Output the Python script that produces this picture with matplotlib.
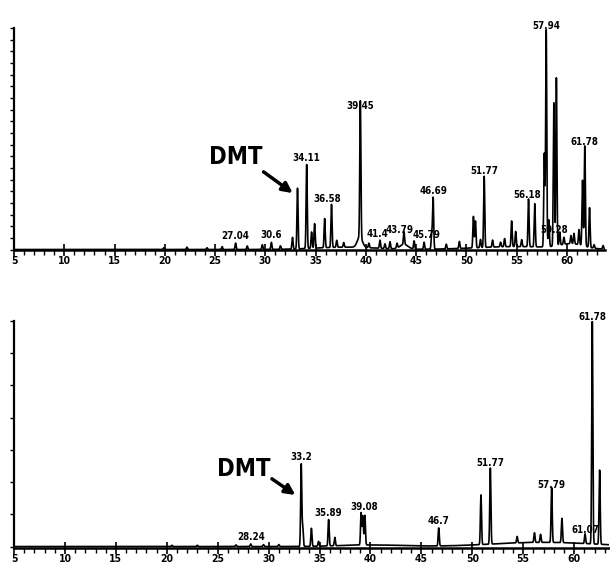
import numpy as np
import matplotlib
matplotlib.use("Agg")
import matplotlib.pyplot as plt
from matplotlib import font_manager
from matplotlib.ticker import MultipleLocator

# ---- data (retention time in min, height in tick units)
top_rt = [19.9, 22.2, 24.2, 25.7, 27.04, 28.2, 29.7, 30.6, 31.5, 32.7, 33.2,
          34.11, 34.6, 34.9, 35.9, 36.58, 37.1, 37.8, 39.45, 40.3, 41.4, 41.9,
          42.4, 43.1, 43.79, 44.8, 45.79, 46.55, 46.69, 48.0, 49.3, 50.7, 50.9,
          51.4, 51.77, 52.6, 53.4, 53.8, 54.5, 54.9, 55.5, 56.18, 56.8, 57.75,
          57.94, 58.2, 58.7, 58.95, 59.28, 59.7, 60.4, 60.7, 61.2, 61.55, 61.78,
          62.25, 62.7, 63.6]
top_h = [0.15, 0.2, 0.15, 0.25, 0.55, 0.3, 0.4, 0.6, 0.3, 1.0, 5.2,
         7.2, 1.4, 2.1, 2.5, 3.7, 0.6, 0.4, 11.7, 0.4, 0.7, 0.4,
         0.6, 0.4, 1.1, 0.7, 0.6, 1.4, 4.4, 0.4, 0.6, 2.7, 2.3,
         0.7, 6.1, 0.6, 0.4, 0.7, 2.2, 1.3, 0.6, 4.1, 3.7, 8.0,
         18.6, 2.3, 12.3, 14.4, 1.1, 0.6, 0.7, 0.9, 1.3, 5.6, 8.6,
         3.4, 0.3, 0.3]
top_hump_rt = [38.0, 39.4, 43.8, 55.0, 60.5]
top_hump_h = [0.2, 0.9, 0.4, 0.25, 0.4]
top_hump_w = [3.0, 0.25, 0.4, 4.0, 1.2]
top_labels = ["27.04", "30.6", "34.11", "36.58", "39.45", "41.4", "43.79",
              "45.79", "46.69", "51.77", "56.18", "57.94", "59.28", "61.78"]

bot_rt = [20.5, 23.0, 26.8, 28.24, 29.5, 31.0, 33.2, 33.35, 34.2, 34.9, 35.89,
          36.5, 39.08, 39.25, 39.45, 46.7, 50.85, 51.77, 54.4, 56.1, 56.7,
          57.79, 58.8, 61.07, 61.78, 62.5]
bot_h = [0.04, 0.04, 0.05, 0.08, 0.06, 0.06, 2.55, 0.6, 0.56, 0.15, 0.82,
         0.26, 1.0, 0.9, 0.92, 0.56, 1.54, 2.36, 0.2, 0.3, 0.25,
         1.7, 0.75, 0.3, 6.9, 2.3]
bot_hump_rt = [57.0, 40.0]
bot_hump_h = [0.13, 0.05]
bot_hump_w = [5.0, 3.0]
bot_labels = ["28.24", "33.2", "35.89", "39.08", "46.7", "51.77", "57.79",
              "61.07", "61.78"]

label_shift = {"59.28": -4, "36.58": -3, "39.08": 2, "56.18": -1, "41.4": -2,
               "43.79": -3, "45.79": 1.5}

# narrow bold font if one is installed, else Liberation Sans (narrower than DejaVu)
FONT, STRETCH = "Liberation Sans", "normal"
for f in font_manager.fontManager.ttflist:
    if "Narrow" in f.name or "Condensed" in f.name:
        FONT, STRETCH = f.name, "normal"
        break
    if f.stretch in ("condensed", "semi-condensed", 500 - 125) and f.name == "DejaVu Sans":
        FONT, STRETCH = "DejaVu Sans", "condensed"
        break


def trace(t, rts, hs, hump_rt, hump_h, hump_w, sigma=0.055):
    y = np.zeros_like(t)
    for r, h in zip(rts, hs):
        y += h * np.exp(-0.5 * ((t - r) / sigma) ** 2)
    for r, h, w in zip(hump_rt, hump_h, hump_w):
        y += h * np.exp(-0.5 * ((t - r) / w) ** 2)
    return y


def style(ax, xmax, ymax):
    ax.set_xlim(5, xmax)
    ax.set_ylim(-0.05, ymax)
    for s in ["top", "right"]:
        ax.spines[s].set_visible(False)
    ax.spines["left"].set_linewidth(1.6)
    ax.spines["bottom"].set_linewidth(1.8)
    ax.xaxis.set_major_locator(MultipleLocator(5))
    ax.xaxis.set_minor_locator(MultipleLocator(1))
    ax.yaxis.set_major_locator(MultipleLocator(1))
    ax.tick_params(axis="x", which="major", direction="inout", length=8, width=1.2, pad=0)
    ax.tick_params(axis="x", which="minor", direction="out", length=3.5, width=1.0)
    ax.tick_params(axis="y", which="major", direction="out", length=3, width=1.0, labelleft=False)
    for lab in ax.get_xticklabels():
        lab.set_fontfamily(FONT)
        lab.set_fontstretch(STRETCH)
        lab.set_fontweight("bold")
        lab.set_fontsize(7.5)


def label_peaks(ax, rts, hs, labels, size):
    for lab in labels:
        i = rts.index(float(lab))
        ax.annotate(lab, (rts[i], hs[i]), xytext=(label_shift.get(lab, 0), 1.5),
                    textcoords="offset points", ha="center", va="bottom",
                    fontsize=size, fontweight="bold", family=FONT, fontstretch=STRETCH)


fig = plt.figure(figsize=(6.1, 5.71), dpi=100)

ax1 = fig.add_axes([0.023, 0.562, 0.969, 0.389])
t1 = np.linspace(5, 64, 14000)
ax1.plot(t1, trace(t1, top_rt, top_h, top_hump_rt, top_hump_h, top_hump_w),
         color="black", lw=1.2)
style(ax1, 63.8, 19)
label_peaks(ax1, top_rt, top_h, top_labels, 7)
ax1.text(27.1, 7.9, "DMT", ha="center", va="center", fontsize=17,
         fontweight="bold", family=FONT, fontstretch=STRETCH)
ax1.annotate("", xy=(32.95, 4.7), xytext=(29.6, 6.8),
             arrowprops=dict(arrowstyle="-|>,head_length=0.6,head_width=0.3",
                             lw=2.5, color="black"))

ax2 = fig.add_axes([0.023, 0.040, 0.975, 0.398])
t2 = np.linspace(5, 64, 14000)
ax2.plot(t2, trace(t2, bot_rt, bot_h, bot_hump_rt, bot_hump_h, bot_hump_w),
         color="black", lw=1.2)
style(ax2, 63.4, 7)
label_peaks(ax2, bot_rt, bot_h, bot_labels, 7)
ax2.text(27.6, 2.4, "DMT", ha="center", va="center", fontsize=17,
         fontweight="bold", family=FONT, fontstretch=STRETCH)
ax2.annotate("", xy=(32.85, 1.55), xytext=(30.1, 2.15),
             arrowprops=dict(arrowstyle="-|>,head_length=0.6,head_width=0.3",
                             lw=2.5, color="black"))

fig.savefig("out.png", dpi=100)
